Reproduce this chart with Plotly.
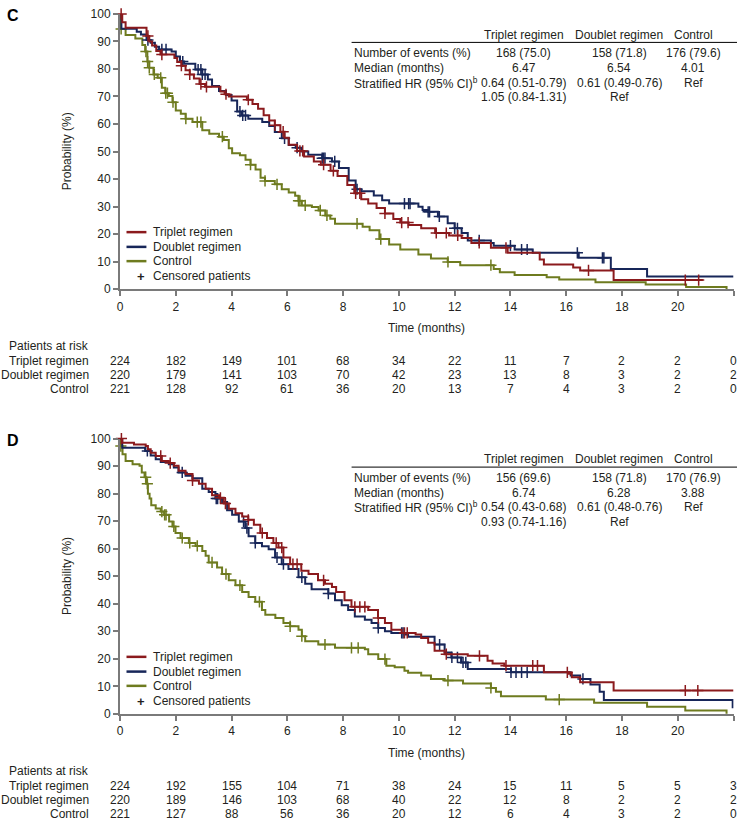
import plotly.graph_objects as go

W, H = 739, 830
FONT = "Liberation Sans, Arial, Helvetica, sans-serif"
TXT = "#231f20"
RED, NAVY, OLIVE = "#8b1a1d", "#172659", "#6e7b1f"
AX = "#7a7a7a"

# ---------------- Panel C data ----------------
c_trip_t = [0, 0.08, 0.2, 0.95, 1.05, 1.15, 1.3, 1.45, 1.95, 2.05, 2.2, 2.35, 2.5, 2.65, 2.85, 3.05, 3.6, 3.75, 3.9,
            4.55, 4.75, 4.95, 5.15, 5.35, 5.55, 5.75, 5.9, 6.05, 6.35, 6.6, 6.95, 7.2, 7.55, 7.8, 8.15, 8.4, 8.65, 8.9,
            9.2, 9.5, 9.8, 10.05, 10.35, 10.8, 11.3, 11.8, 12.25, 12.6, 13.3, 13.9, 15.05, 15.2, 16.25, 16.5, 17.7, 20.9]
c_trip_s = [100, 97, 95, 92, 90, 88.5, 86.5, 85.2, 84, 82.5, 81.2, 79.5, 78, 76.5, 74.5, 73.5, 71.8, 70.8, 70,
            68.8, 67.3, 65.5, 63.2, 61.3, 59.5, 57.2, 55, 52.5, 50.2, 48.2, 46.4, 45.2, 43, 41.1, 37.8, 34.8, 32.7, 31.1,
            29.5, 27.5, 25.5, 24.2, 23.3, 22.1, 20.4, 19.5, 18.6, 16.8, 15, 13.2, 10.8, 9.0, 7.9, 6.8, 3.3, 3.3]
c_trip_cens = [0.04, 1.0, 1.5, 2.2, 2.5, 2.9, 3.1, 3.8, 4.6, 5.55, 5.85, 6.45, 6.55, 7.3, 7.65, 8.45, 8.6, 9.5,
               10.1, 10.33, 11.34, 11.7, 12.11, 12.88, 13.84, 16.8, 20.27, 20.75]

c_doub_t = [0, 0.05, 0.6, 0.75, 0.95, 1.1, 1.25, 1.4, 1.85, 2.0, 2.15, 2.3, 2.7, 2.95, 3.15, 3.3, 3.55, 3.8, 4.0,
            4.2, 4.35, 4.6, 5.1, 5.35, 5.55, 5.8, 6.05, 6.3, 6.5, 6.75, 7.25, 7.6, 7.85, 8.2, 8.45, 8.65, 9.1, 9.4,
            9.65, 10.7, 10.85, 11.05, 11.4, 11.75, 12.0, 12.25, 12.47, 13.3, 13.4, 14.15, 14.8, 16.45, 17.6, 18.9, 22.0]
c_doub_s = [100, 94.6, 93.5, 92.5, 90.5, 89.5, 88.1, 87.1, 86.3, 84.5, 82.7, 81.9, 79.8, 78, 76.2, 73.8, 72, 70.5, 68.5,
            64.5, 63.1, 61.9, 60.7, 59.3, 57.1, 54.8, 52.4, 51.4, 50, 48.8, 47.6, 46.4, 44, 39.5, 36.3, 35.6, 34, 32.3,
            31.1, 29.9, 28.8, 28.1, 26.4, 23.9, 22.1, 20.4, 17.7, 16.8, 15.8, 14.4, 13.2, 11.4, 7.3, 4.6, 4.6]
c_doub_cens = [1.0, 1.5, 1.65, 2.25, 2.8, 2.9, 2.95, 3.05, 4.3, 4.4, 4.5, 5.9, 6.35, 7.25, 7.3, 7.35, 7.7, 8.5,
               10.2, 10.35, 10.4, 11.05, 11.1, 11.45, 12.0, 12.1, 12.88, 14.0, 14.4, 14.6, 16.4, 17.3, 17.35]

c_ctrl_t = [0, 0.03, 0.2, 0.55, 0.8, 0.9, 0.98, 1.05, 1.2, 1.35, 1.5, 1.62, 1.75, 1.88, 2.0, 2.18, 2.35, 2.6, 2.95,
            3.2, 3.55, 3.72, 3.9, 4.02, 4.3, 4.5, 4.68, 4.86, 5.04, 5.2, 5.55, 5.8, 6.05, 6.28, 6.4, 6.52, 6.88, 7.12,
            7.36, 7.54, 7.71, 8.7, 8.95, 9.3, 9.65, 10.05, 10.7, 11.15, 11.75, 12.2, 13.4, 13.62, 14.15, 15.3, 15.75,
            17.05, 18.85, 20.3, 21.75]
c_ctrl_s = [100, 94.5, 92.3, 91.1, 88.7, 86.3, 82.7, 80.4, 78, 76.8, 73.2, 71.2, 70.2, 67.9, 64.9, 63.7, 61.9, 60.7, 57.7,
            56.5, 55.4, 54.2, 51.2, 49.4, 48.6, 47, 45.2, 43.5, 40.5, 39.3, 38.1, 36.3, 35.1, 33.9, 32.1, 30.4, 29.8, 28.6,
            26.8, 25.6, 23.8, 22.7, 21.4, 18.2, 16.2, 14.4, 12.6, 11.1, 9.9, 8.7, 7.3, 6.1, 5.1, 4.3, 3.5,
            2.5, 1.7, 0.8, 0]
c_ctrl_cens = [0.04, 0.93, 0.99, 1.05, 1.23, 1.46, 1.64, 1.7, 1.9, 2.36, 2.77, 2.9, 3.67, 4.68, 5.2, 5.63,
               6.4, 6.45, 6.64, 7.18, 7.42, 8.5, 9.35, 11.76, 13.3]

# ---------------- Panel D data ----------------
d_trip_t = [0, 0.08, 0.5, 0.92, 1.0, 1.1, 1.28, 1.5, 1.75, 1.93, 2.1, 2.35, 2.6, 2.83, 3.07, 3.3, 3.55, 3.72, 3.9,
            4.14, 4.38, 4.6, 4.8, 5.03, 5.27, 5.5, 5.68, 5.86, 6.1, 6.5, 6.76, 7.1, 7.35, 7.6, 7.75, 8.05, 8.3, 8.9,
            9.25, 9.5, 9.73, 10.1, 10.6, 10.8, 11.05, 11.28, 11.64, 12.47, 13.18, 13.36, 13.78, 15.2, 16.1, 16.2,
            16.5, 17.7, 22.0]
d_trip_s = [100, 98.5, 97.9, 97.3, 96.1, 94.9, 93.7, 91.9, 91.1, 90.1, 88.3, 87.1, 84.8, 83.6, 81.8, 79.4, 78.5, 76.4, 74.5,
            72.9, 71.7, 70.5, 68.7, 65.7, 63.9, 62.1, 60.4, 56.8, 54.4, 52, 50.8, 48.5, 47.3, 46.1, 44.3, 41.3, 38.9, 37.7,
            34.8, 33, 30.6, 29.4, 28.8, 27.6, 25.8, 22.9, 21.7, 21.1, 19.3, 18.3, 17.5, 15.1, 14.6, 13.3,
            11.5, 8.5, 8.5]
d_trip_cens = [0.05, 1.46, 1.8, 2.6, 3.6, 3.78, 4.6, 5.1, 5.6, 5.8, 6.2, 6.35, 7.3, 8.42, 8.6, 8.78, 9.26,
               10.2, 10.3, 11.7, 12.89, 13.84, 14.8, 14.97, 16.04, 20.27, 20.72]

d_doub_t = [0, 0.08, 0.9, 1.1, 1.28, 1.46, 1.75, 1.93, 2.1, 2.35, 2.6, 2.95, 3.18, 3.42, 3.66, 3.84, 4.02, 4.26, 4.49,
            4.61, 4.85, 5.09, 5.33, 5.56, 5.8, 6.04, 6.4, 6.64, 6.87, 7.47, 7.71, 7.95, 8.18, 8.42, 8.78, 9.02, 9.26,
            9.5, 9.73, 10.2, 10.33, 11.28, 11.64, 11.88, 12.23, 12.47, 14.02, 16.16, 16.5, 16.87, 17.2, 17.35, 21.97]
d_doub_s = [100, 96.7, 95.5, 93.9, 92.5, 91.5, 90.7, 89.5, 87.7, 86.5, 85.6, 81.8, 80.6, 78.2, 77, 74, 72.3, 69.9, 67.5,
            64.5, 62.1, 60.9, 59.8, 56.8, 54.4, 52.6, 49.6, 47.3, 45.3, 43.7, 41.3, 39.5, 37.7, 35.4, 34.2, 33, 31.2,
            30, 29.4, 28.8, 28, 25.2, 22.3, 20.5, 18.7, 16.3, 15.1, 13.9, 12.7, 10.7, 8, 5, 2]
d_doub_cens = [0.98, 2.23, 3.45, 3.5, 4.43, 4.55, 4.85, 5.63, 5.86, 6.52, 7.47, 9.26, 10.1, 10.15,
               11.46, 11.9, 12.1, 12.3, 12.4, 14.02, 14.2, 14.4, 14.6, 16.6]

d_ctrl_t = [0, 0.03, 0.09, 0.2, 0.45, 0.7, 0.78, 0.88, 0.94, 1.0, 1.06, 1.12, 1.28, 1.46, 1.58, 1.76, 1.88, 1.99, 2.17,
            2.47, 2.71, 2.95, 3.07, 3.18, 3.48, 3.66, 3.9, 4.14, 4.38, 4.61, 4.85, 5.09, 5.21, 5.57, 5.86, 6.1, 6.4,
            6.52, 6.64, 7.11, 7.71, 8.78, 8.9, 9.26, 9.55, 9.85, 10.2, 10.33, 10.8, 11.15, 11.64, 12.3, 13.3, 13.48,
            13.66, 15.27, 17.0, 18.9, 20.27, 21.75]
d_ctrl_s = [100, 97.3, 94.3, 91.9, 90.7, 90.1, 87.7, 86, 83.6, 80, 78.2, 75.8, 74.6, 73.5, 72.3, 69.9, 68.1, 65.7, 63.9,
            62.1, 61, 59.2, 57.4, 55, 53.2, 50.8, 48.5, 46.7, 44.3, 42.5, 40.7, 37.7, 36, 34.8, 33, 31.8, 30.6,
            28.2, 26.4, 25.2, 24, 23.5, 21.7, 19.9, 17.5, 16.9, 15.7, 14.9, 13.9, 12.7, 12.1, 11, 9.4, 8,
            6.4, 5.2, 4, 2.6, 1.2, 0]
d_ctrl_cens = [0.03, 0.92, 0.98, 1.5, 1.6, 1.65, 1.93, 2.23, 2.5, 2.77, 3.3, 3.8, 4.3, 5.0, 6.1, 6.52, 7.35,
               8.3, 8.54, 9.5, 11.76, 13.3, 15.75]

# ---------------- Tables ----------------
groups = ["Triplet regimen", "Doublet regimen", "Control"]
colors = [RED, NAVY, OLIVE]
row_labels = ["Number of events (%)", "Median (months)", "Stratified HR (95% CI)<sup>b</sup>", ""]
c_table = [["168 (75.0)", "158 (71.8)", "176 (79.6)"],
           ["6.47", "6.54", "4.01"],
           ["0.64 (0.51-0.79)", "0.61 (0.49-0.76)", "Ref"],
           ["1.05 (0.84-1.31)", "Ref", ""]]
d_table = [["156 (69.6)", "158 (71.8)", "170 (76.9)"],
           ["6.74", "6.28", "3.88"],
           ["0.54 (0.43-0.68)", "0.61 (0.48-0.76)", "Ref"],
           ["0.93 (0.74-1.16)", "Ref", ""]]

risk_times = list(range(0, 23, 2))
c_risk = [[224, 182, 149, 101, 68, 34, 22, 11, 7, 2, 2, 0],
          [220, 179, 141, 103, 70, 42, 23, 13, 8, 3, 2, 2],
          [221, 128, 92, 61, 36, 20, 13, 7, 4, 3, 2, 0]]
d_risk = [[224, 192, 155, 104, 71, 38, 24, 15, 11, 5, 5, 3],
          [220, 189, 146, 103, 68, 40, 22, 12, 8, 2, 2, 2],
          [221, 127, 88, 56, 36, 20, 12, 6, 4, 3, 2, 0]]


def step_at(ts, ss, t):
    v = ss[0]
    for ti, si in zip(ts, ss):
        if ti <= t:
            v = si
        else:
            break
    return v


def px(x):
    return x / W


def py(y):
    return 1 - y / H


fig = go.Figure()
annotations = []
shapes = []

panels = [
    dict(letter="C", off=0, xa="x", ya="y",
         curves=[(c_ctrl_t, c_ctrl_s, c_ctrl_cens, OLIVE), (c_doub_t, c_doub_s, c_doub_cens, NAVY),
                 (c_trip_t, c_trip_s, c_trip_cens, RED)],
         table=c_table, risk=c_risk),
    dict(letter="D", off=432, xa="x2", ya="y2",
         curves=[(d_ctrl_t, d_ctrl_s, d_ctrl_cens, OLIVE), (d_doub_t, d_doub_s, d_doub_cens, NAVY),
                 (d_trip_t, d_trip_s, d_trip_cens, RED)],
         table=d_table, risk=d_risk),
]

X0, X1 = 117.5, 733.5

for p in panels:
    off = p["off"]
    for ts, ss, cens, col in p["curves"]:
        fig.add_trace(go.Scatter(x=ts, y=ss, mode="lines", line=dict(shape="hv", color=col, width=2),
                                 xaxis=p["xa"], yaxis=p["ya"], showlegend=False, hoverinfo="skip"))
        fig.add_trace(go.Scatter(x=cens, y=[step_at(ts, ss, c) for c in cens], mode="markers",
                                 marker=dict(symbol="cross-thin", size=8, color=col, line=dict(width=1.5, color=col)),
                                 xaxis=p["xa"], yaxis=p["ya"], showlegend=False, hoverinfo="skip",
                                 cliponaxis=False))

    def ann(text, x, y, xanchor="left", size=12, **kw):
        annotations.append(dict(text=text, x=px(x), y=py(y + off), xref="paper", yref="paper",
                                xanchor=xanchor, yanchor="middle", showarrow=False,
                                font=dict(family=FONT, size=size, color=TXT), **kw))

    # panel letter
    annotations.append(dict(text="<b>%s</b>" % p["letter"], x=px(2), y=py(9 + off), xref="paper", yref="paper",
                            xanchor="left", yanchor="middle", showarrow=False,
                            font=dict(family=FONT, size=16, color="#000")))
    # axis titles
    ann("Probability (%)", 64, 147, xanchor="center", textangle=-90)
    ann("Time (months)", 425, 327, xanchor="center")

    # summary table
    col_x = [523, 619, 693]
    for g, cx in zip(groups, col_x):
        ann(g, cx, 28, xanchor="center")
    shapes.append(dict(type="line", xref="paper", yref="paper", x0=px(350), x1=px(737),
                       y0=py(36 + off), y1=py(36 + off), line=dict(color="#000", width=1)))
    row_y = [47, 62, 77, 91.5]
    for lab, vals, ry in zip(row_labels, p["table"], row_y):
        if lab:
            ann(lab, 350, ry)
        for v, cx in zip(vals, col_x):
            if v:
                ann(v, cx, ry, xanchor="center")

    # legend
    leg_y = [229, 244, 258.5, 274]
    for g, col, ly in zip(groups, colors, leg_y):
        shapes.append(dict(type="line", xref="paper", yref="paper", x0=px(124), x1=px(144),
                           y0=py(ly + off), y1=py(ly + off), line=dict(color=col, width=2.5)))
        ann(g, 149, ly)
    ann("<b>+</b>", 139, leg_y[3], xanchor="center", size=13)
    ann("Censored patients", 149, leg_y[3])

    # risk table
    ann("Patients at risk", 88, 345, xanchor="right")
    risk_y = [360, 374.5, 389]
    for g, vals, ry in zip(groups, p["risk"], risk_y):
        ann(g, 88, ry, xanchor="right")
        for t, v in zip(risk_times, vals):
            annotations.append(dict(text=str(v), x=t, y=py(ry + off), xref=p["xa"], yref="paper",
                                    xanchor="center", yanchor="middle", showarrow=False,
                                    font=dict(family=FONT, size=12, color=TXT)))

axis_common = dict(showgrid=False, zeroline=False, showline=True, linecolor=AX, linewidth=2,
                   ticks="outside", ticklen=5, tickwidth=1.5, tickcolor=AX,
                   tickfont=dict(family=FONT, size=12, color=TXT), fixedrange=True)

fig.update_layout(
    width=W, height=H, margin=dict(l=0, r=0, t=0, b=0),
    paper_bgcolor="white", plot_bgcolor="white", showlegend=False,
    xaxis=dict(domain=[px(X0), px(X1)], range=[0, 22], tickvals=risk_times, anchor="y", **axis_common),
    yaxis=dict(domain=[py(287), py(7)], range=[0, 100], tickvals=list(range(0, 101, 10)), anchor="x",
               **axis_common),
    xaxis2=dict(domain=[px(X0), px(X1)], range=[0, 22], tickvals=risk_times, anchor="y2", **axis_common),
    yaxis2=dict(domain=[py(719), py(439)], range=[0, 100], tickvals=list(range(0, 101, 10)), anchor="x2",
                **axis_common),
    annotations=annotations, shapes=shapes,
)

fig.write_html("out.html", config={"displayModeBar": False},
               post_script="document.body.style.margin='0';document.body.style.overflow='hidden';")
